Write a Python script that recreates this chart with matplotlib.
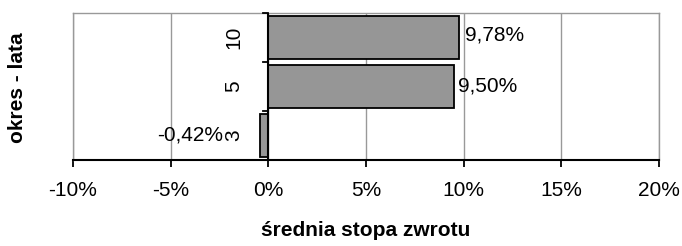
import matplotlib
matplotlib.use("Agg")
import matplotlib.pyplot as plt

categories = ["3", "5", "10"]
values = [-0.42, 9.50, 9.78]
labels = ["-0,42%", "9,50%", "9,78%"]
xticks = [-10, -5, 0, 5, 10, 15, 20]
xticklabels = ["-10%", "-5%", "0%", "5%", "10%", "15%", "20%"]

plt.rcParams['font.family'] = ['Liberation Sans', 'DejaVu Sans']

fig = plt.figure(figsize=(6.82, 2.46), dpi=100)
ax = fig.add_axes([73/682, 1-160/246, (659-73)/682, (160-13)/246])

y = list(range(len(categories)))
ax.barh(y, values, height=0.88, color="#969696", edgecolor="black", linewidth=1.3, zorder=3)
ax.set_xlim(-10, 20)
ax.set_ylim(-0.5, 2.5)

ax.set_xticks(xticks)
ax.set_xticklabels(xticklabels, fontsize=15)
ax.xaxis.grid(True, color="#999999", linewidth=1.0, zorder=0)
ax.tick_params(axis='x', length=5, width=1.3, pad=10, color="black")

for s in ["left", "top", "right"]:
    ax.spines[s].set_color("#999999")
    ax.spines[s].set_linewidth(1.0)
ax.spines["bottom"].set_color("black")
ax.spines["bottom"].set_linewidth(1.5)

# y-axis line at zero
ax.axvline(0, color="black", linewidth=1.5, zorder=4)
ax.set_yticks([])
for b in [-0.5, 0.5, 1.5, 2.5]:
    ax.plot([-0.25, 0], [b, b], color="black", linewidth=1.3, zorder=4, clip_on=False)
for yi, c in zip(y, categories):
    ax.text(-1.75, yi, c, rotation=90, ha="center", va="center", fontsize=15)

# data labels
ax.text(-2.3, 0.02, labels[0], ha="right", va="center", fontsize=15)
ax.text(9.7, 1.0, labels[1], ha="left", va="center", fontsize=15)
ax.text(10.05, 2.05, labels[2], ha="left", va="center", fontsize=15)

fig.text(18/682, 1-88/246, "okres - lata", rotation=90, ha="center", va="center",
         fontsize=15, fontweight="bold")
fig.text(366/682, 1-230/246, "średnia stopa zwrotu", ha="center", va="center",
         fontsize=15, fontweight="bold")

fig.savefig("out.png", dpi=100)
